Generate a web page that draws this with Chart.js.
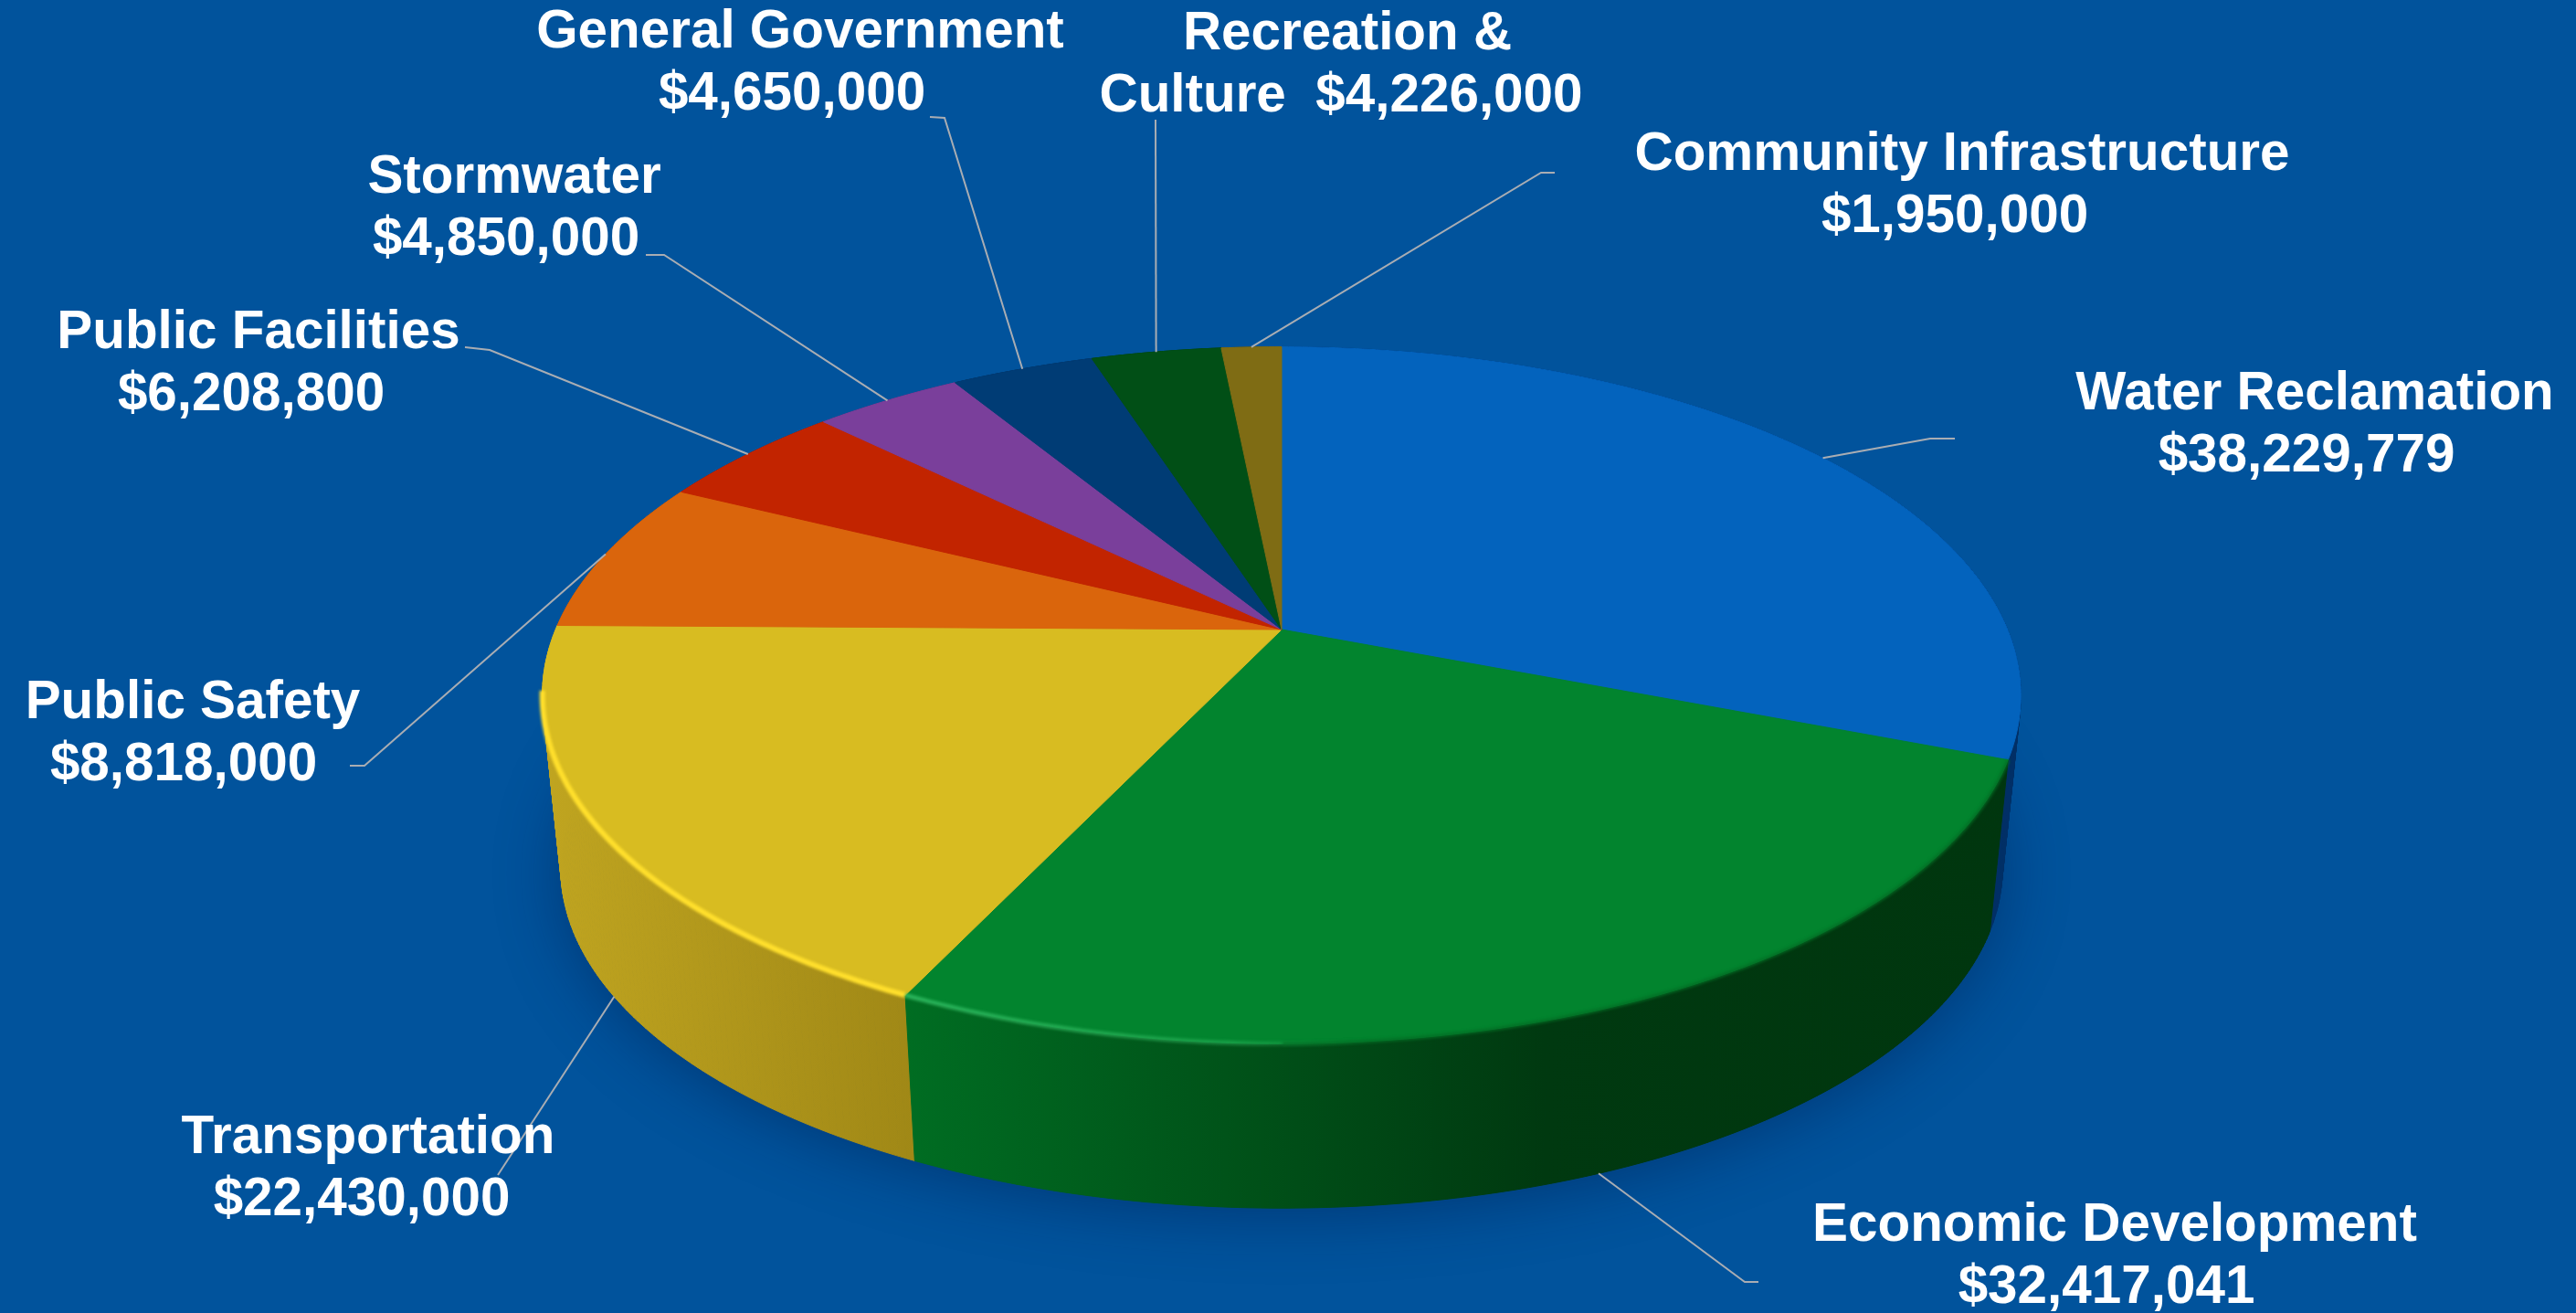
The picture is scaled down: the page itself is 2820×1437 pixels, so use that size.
<!DOCTYPE html>
<html>
<head>
<meta charset="utf-8">
<title>Budget by program</title>
<script src="https://cdn.jsdelivr.net/npm/chart.js@4/dist/chart.umd.js"></script>
<style>
  html, body { margin: 0; padding: 0; background: #01539c; overflow: hidden; }
  #wrap { width: 2820px; height: 1437px; position: relative; }
</style>
</head>
<body>
<div id="wrap"><canvas id="myChart"></canvas></div>
<script>
// names, split where the label wraps before the amount
const nameLines = [
  ['Water Reclamation'], ['Economic Development'], ['Transportation'], ['Public Safety'],
  ['Public Facilities'], ['Stormwater'], ['General Government'], ['Recreation &', 'Culture'],
  ['Community Infrastructure']
]
const categories = nameLines.map(l => l.join(' '))
const amounts = [38229779, 32417041, 22430000, 8818000, 6208800, 4850000, 4650000, 4226000, 1950000]
const sliceColors = ['#0363bd', '#02842e', '#d8bc21', '#da650c', '#c22400', '#7a3f9b', '#003c75', '#014f16', '#7f6c14']

// side wall shades, left to right
const wallShades = [
  ['#012f66', '#012f66'],
  ['#006d22', '#003910', '#00360e'],
  ['#c0a520', '#a08816'],
  ['#a04a08'], ['#8c1a00'], ['#5a2e72'], ['#002a52'], ['#01380f'], ['#5a4d0e']
]

// label placement: centre x of each line, baseline of the first line
const labelCenter = [[2534, 2525], [2315, 2306], [403, 396], [211, 201], [283, 275], [563, 554], [876, 867], [1475, 1468], [2148, 2140]]
const labelBaseline = [448, 1358, 1262, 786, 381, 211, 52, 54, 186]
const lineGap = 68
// elbows of the leader lines, from the pie towards the label
const leaderElbows = [
  [[2113, 480], [2140, 480]],
  [[1910, 1403], [1925, 1403]],
  [[545, 1286]],
  [[399, 838], [383, 838]],
  [[536, 383], [509, 380]],
  [[727, 279], [707, 279]],
  [[1034, 129], [1018, 128]],
  [[1265, 131]],
  [[1687, 189], [1702, 189]]
]
// the front slices hang their leader from the bottom edge of the wall
const leaderFromWall = [false, true, true, false, false, false, false, false, false]

// perspective of the tilted disc, relative to the pie radius
const tilt = { kx: 1.1535, ky: 0.5338, k: 0.1887, shrink: 0.975, depth: 0.2775 }

function project(arc, a, level) {
  const u = Math.cos(a), v = Math.sin(a), d = 1 - tilt.k * v
  const X = arc.outerRadius * tilt.kx * u / d
  const Y = arc.outerRadius * tilt.ky * v / d
  if (level === 1) {
    return { x: arc.x + tilt.shrink * X, y: arc.y + arc.outerRadius * tilt.depth + tilt.shrink * Y }
  }
  return { x: arc.x + X, y: arc.y + Y }
}

function traceRim(ctx, arc, a0, a1, level, first) {
  const steps = Math.max(4, Math.ceil(Math.abs(a1 - a0) * 90))
  for (let i = 0; i <= steps; i++) {
    const p = project(arc, a0 + (a1 - a0) * i / steps, level)
    if (i === 0 && first) ctx.moveTo(p.x, p.y)
    else ctx.lineTo(p.x, p.y)
  }
}

// slices are painted on the tilted disc instead of a flat circle
Chart.ArcElement.prototype.draw = function (ctx) {
  ctx.save()
  ctx.beginPath()
  ctx.moveTo(this.x, this.y)
  traceRim(ctx, this, this.startAngle, this.endAngle, 0, false)
  ctx.closePath()
  ctx.fillStyle = this.options.backgroundColor
  ctx.strokeStyle = this.options.backgroundColor
  ctx.lineWidth = 1
  ctx.fill()
  ctx.stroke()
  ctx.restore()
}

const pieWalls = {
  id: 'pieWalls',
  beforeDatasetsDraw(chart) {
    const ctx = chart.ctx
    const arcs = chart.getDatasetMeta(0).data

    // soft shadow under the disc
    ctx.save()
    ctx.shadowColor = 'rgba(0, 25, 70, 0.45)'
    ctx.shadowBlur = 70
    ctx.shadowOffsetY = 6
    ctx.fillStyle = '#003060'
    ctx.beginPath()
    traceRim(ctx, arcs[0], 0, Math.PI * 2, 1, true)
    ctx.closePath()
    ctx.fill()
    ctx.restore()

    // back slices first
    const order = arcs.map((a, i) => i).sort((i, j) =>
      Math.sin((arcs[i].startAngle + arcs[i].endAngle) / 2) - Math.sin((arcs[j].startAngle + arcs[j].endAngle) / 2))
    order.forEach(i => {
      const arc = arcs[i]
      const steps = Math.max(4, Math.ceil((arc.endAngle - arc.startAngle) * 90))
      const tops = [], lows = []
      let minX = Infinity, maxX = -Infinity
      for (let t = 0; t <= steps; t++) {
        const a = arc.startAngle + (arc.endAngle - arc.startAngle) * t / steps
        const p = project(arc, a, 0), q = project(arc, a, 1)
        tops.push(p)
        lows.push(q)
        minX = Math.min(minX, p.x, q.x)
        maxX = Math.max(maxX, p.x, q.x)
      }
      const shades = wallShades[i]
      const grad = ctx.createLinearGradient(minX, 0, maxX, 0)
      if (shades.length === 1) grad.addColorStop(0, shades[0])
      else if (shades.length === 3) {
        grad.addColorStop(0, shades[0])
        grad.addColorStop(0.58, shades[1])
        grad.addColorStop(1, shades[2])
      } else {
        grad.addColorStop(0, shades[0])
        grad.addColorStop(1, shades[1])
      }
      ctx.fillStyle = grad
      ctx.strokeStyle = grad
      ctx.lineWidth = 1
      // quad by quad so the sides reach the silhouette of the disc
      for (let t = 0; t < steps; t++) {
        ctx.beginPath()
        ctx.moveTo(tops[t].x, tops[t].y)
        ctx.lineTo(tops[t + 1].x, tops[t + 1].y)
        ctx.lineTo(lows[t + 1].x, lows[t + 1].y)
        ctx.lineTo(lows[t].x, lows[t].y)
        ctx.closePath()
        ctx.fill()
        ctx.stroke()
      }
    })
  },
  afterDatasetsDraw(chart) {
    const ctx = chart.ctx
    const arcs = chart.getDatasetMeta(0).data

    // lit bevel along the front of the yellow and green slices
    const yellow = arcs[2], green = arcs[1]
    ctx.save()
    ctx.filter = 'blur(1.5px)'
    ctx.lineWidth = 6
    ctx.strokeStyle = '#ffdf2c'
    ctx.beginPath()
    traceRim(ctx, yellow, yellow.startAngle, yellow.startAngle + 0.95, 0, true)
    ctx.stroke()

    const sheen = ctx.createLinearGradient(995, 0, 1500, 0)
    sheen.addColorStop(0, 'rgba(50, 190, 100, 0.8)')
    sheen.addColorStop(0.7, 'rgba(50, 190, 100, 0.45)')
    sheen.addColorStop(1, 'rgba(50, 190, 100, 0)')
    ctx.strokeStyle = sheen
    ctx.lineWidth = 5
    ctx.beginPath()
    traceRim(ctx, green, green.endAngle, green.startAngle + 0.5, 0, true)
    ctx.stroke()
    ctx.strokeStyle = 'rgba(2, 110, 36, 0.8)'
    ctx.lineWidth = 4
    ctx.beginPath()
    traceRim(ctx, green, green.startAngle, green.startAngle + 1.2, 0, true)
    ctx.stroke()
    ctx.restore()
  },
  afterDraw(chart) {
    const ctx = chart.ctx
    const arcs = chart.getDatasetMeta(0).data

    // leader lines
    ctx.save()
    ctx.strokeStyle = '#a9adb3'
    ctx.lineWidth = 2
    arcs.forEach((arc, i) => {
      const mid = (arc.startAngle + arc.endAngle) / 2
      const from = project(arc, mid, leaderFromWall[i] ? 1 : 0)
      ctx.beginPath()
      ctx.moveTo(from.x, from.y)
      leaderElbows[i].forEach(p => ctx.lineTo(p[0], p[1]))
      ctx.stroke()
    })
    ctx.restore()

    // labels
    ctx.save()
    ctx.fillStyle = '#ffffff'
    ctx.font = 'bold 58.4px "Liberation Sans", Arial, sans-serif'
    ctx.textAlign = 'center'
    ctx.textBaseline = 'alphabetic'
    categories.forEach((name, i) => {
      const amount = '$' + amounts[i].toLocaleString('en-US')
      const parts = nameLines[i]
      const lines = parts.length > 1 ? [parts[0], parts[1] + '  ' + amount] : [parts[0], amount]
      lines.forEach((text, n) => ctx.fillText(text, labelCenter[i][n], labelBaseline[i] + n * lineGap))
    })
    ctx.restore()
  }
}

var ctx = document.getElementById('myChart').getContext('2d');
var chart = new Chart(ctx, {
  type: 'pie',
  data: {
    labels: categories,
    datasets: [{
      data: amounts,
      backgroundColor: sliceColors,
      borderWidth: 0
    }]
  },
  options: {
    responsive: true,
    maintainAspectRatio: false,
    animation: false,
    // puts the pie centre at (1403, 689)
    layout: { padding: { right: 14, bottom: 59 } },
    plugins: { legend: { display: false }, tooltip: { enabled: false } }
  },
  plugins: [pieWalls]
});
</script>
</body>
</html>
